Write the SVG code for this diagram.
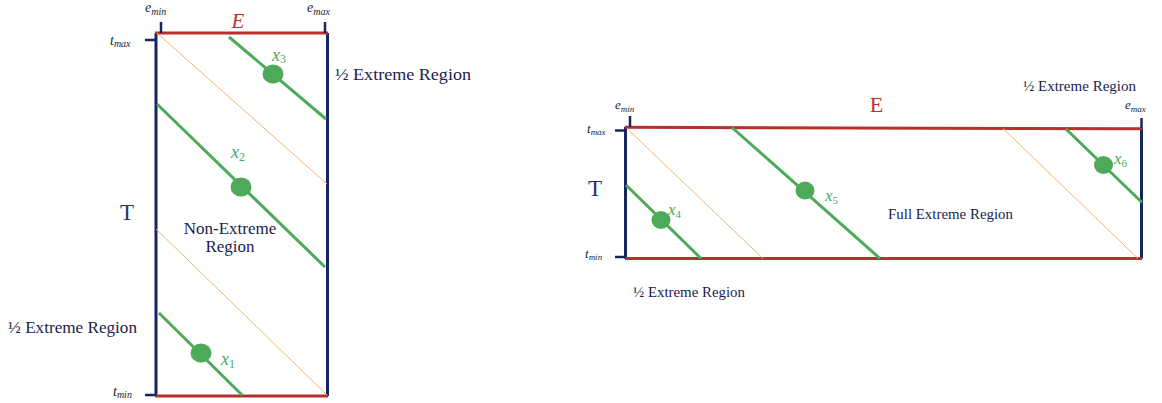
<svg xmlns="http://www.w3.org/2000/svg" width="1162" height="403" viewBox="0 0 1162 403">
<style>
.bg{fill:#ffffff}
.edge{stroke:#b7312c;stroke-width:3;fill:none}
.side{stroke:#15255e;stroke-width:3;fill:none}
.tick{stroke:#15255e;stroke-width:2.5;fill:none}
.guide{stroke:#f6b36e;stroke-width:1;fill:none}
.traj{stroke:#4caa58;stroke-width:3;fill:none}
.pt{fill:#4caa58}
.lbl{font-family:"Liberation Serif","Times New Roman",serif;fill:#1b1d4d}
.ax{font-family:"Liberation Serif","Times New Roman",serif;fill:#1e3470}
.red{font-family:"Liberation Serif","Times New Roman",serif;fill:#b7312c}
.math{font-family:"Liberation Serif","Times New Roman",serif;font-style:italic;fill:#1b1d2d}
.gm{font-family:"Liberation Serif","Times New Roman",serif;font-style:italic;fill:#4caa58}
</style>
<rect class="bg" x="0" y="0" width="1162" height="403"/>
<g id="left-diagram">
  <g id="left-frame">
    <line class="side" x1="156" y1="33" x2="156" y2="396"/>
    <line class="side" x1="327.5" y1="33" x2="327.5" y2="396"/>
    <line class="edge" x1="155" y1="33" x2="328" y2="33"/>
    <line class="edge" x1="155" y1="396" x2="328" y2="396"/>
    <line class="tick" x1="161" y1="22" x2="161" y2="33"/>
    <line class="tick" x1="325" y1="22" x2="325" y2="33"/>
    <line class="tick" x1="145" y1="40" x2="156" y2="40"/>
    <line class="tick" x1="145" y1="395" x2="156" y2="395"/>
  </g>
  <g id="left-guides">
    <line class="guide" x1="157" y1="33" x2="327" y2="184"/>
    <line class="guide" x1="156" y1="229" x2="327" y2="395"/>
  </g>
  <g id="x3">
    <line class="traj" x1="229" y1="37" x2="326" y2="119"/>
    <ellipse class="pt" cx="273" cy="74" rx="10.5" ry="9.5"/>
    <text class="gm" x="272" y="61" font-size="18">x<tspan font-style="normal" font-size="12" dy="2">3</tspan></text>
  </g>
  <g id="x2">
    <line class="traj" x1="157" y1="104" x2="325" y2="267"/>
    <ellipse class="pt" cx="241" cy="187" rx="10.5" ry="9.5"/>
    <text class="gm" x="231" y="158" font-size="18">x<tspan font-style="normal" font-size="12" dy="3">2</tspan></text>
  </g>
  <g id="x1">
    <line class="traj" x1="159" y1="313" x2="242" y2="395"/>
    <ellipse class="pt" cx="201" cy="353" rx="10.5" ry="9.5"/>
    <text class="gm" x="221" y="365" font-size="18">x<tspan font-style="normal" font-size="12" dy="3">1</tspan></text>
  </g>
  <g id="left-labels">
    <text class="red" x="238" y="28" font-size="21" font-style="italic" text-anchor="middle">E</text>
    <text class="math" x="145" y="12" font-size="14">e<tspan font-size="10" dy="3">min</tspan></text>
    <text class="math" x="307" y="12" font-size="14">e<tspan font-size="10" dy="3">max</tspan></text>
    <text class="math" x="110" y="45" font-size="14">t<tspan font-size="10" dy="2">max</tspan></text>
    <text class="math" x="113" y="396" font-size="14">t<tspan font-size="10" dy="2">min</tspan></text>
    <text class="ax" x="127" y="220" font-size="23" text-anchor="middle">T</text>
    <text class="lbl" x="335" y="80" font-size="17" textLength="136" lengthAdjust="spacingAndGlyphs">½ Extreme Region</text>
    <text class="lbl" x="8" y="333" font-size="17" textLength="129" lengthAdjust="spacingAndGlyphs">½ Extreme Region</text>
    <text class="lbl" x="230" y="234" font-size="17" text-anchor="middle">Non-Extreme</text>
    <text class="lbl" x="230" y="252" font-size="17" text-anchor="middle">Region</text>
  </g>
</g>
<g id="right-diagram">
  <g id="right-frame">
    <line class="side" x1="625.5" y1="127" x2="625.5" y2="258.5"/>
    <line class="side" x1="1141.5" y1="128" x2="1141.5" y2="258.5"/>
    <line class="edge" x1="625" y1="127.3" x2="1142" y2="128.8"/>
    <line class="edge" x1="625" y1="258.5" x2="1142" y2="258.5"/>
    <line class="tick" x1="630" y1="116" x2="630" y2="127"/>
    <line class="tick" x1="1141.5" y1="118" x2="1141.5" y2="128"/>
    <line class="tick" x1="615" y1="130.5" x2="626" y2="130.5"/>
    <line class="tick" x1="615" y1="257" x2="626" y2="257"/>
  </g>
  <g id="right-guides">
    <line class="guide" x1="627" y1="128.5" x2="763" y2="258.5"/>
    <line class="guide" x1="1003" y1="128.5" x2="1138" y2="258.5"/>
  </g>
  <g id="x4">
    <line class="traj" x1="626" y1="185" x2="701" y2="258.5"/>
    <ellipse class="pt" cx="661" cy="220" rx="9.5" ry="9"/>
    <text class="gm" x="668" y="215" font-size="17">x<tspan font-style="normal" font-size="11" dy="3">4</tspan></text>
  </g>
  <g id="x5">
    <line class="traj" x1="732" y1="127.5" x2="880" y2="258.5"/>
    <ellipse class="pt" cx="805" cy="190.5" rx="9.5" ry="9"/>
    <text class="gm" x="825" y="201" font-size="17">x<tspan font-style="normal" font-size="11" dy="3">5</tspan></text>
  </g>
  <g id="x6">
    <line class="traj" x1="1066" y1="129" x2="1142" y2="202.5"/>
    <ellipse class="pt" cx="1103.5" cy="165" rx="9.5" ry="9"/>
    <text class="gm" x="1114" y="164" font-size="17">x<tspan font-style="normal" font-size="11" dy="3">6</tspan></text>
  </g>
  <g id="right-labels">
    <text class="red" x="876.5" y="112" font-size="22" text-anchor="middle">E</text>
    <text class="math" x="615" y="109" font-size="13">e<tspan font-size="9" dy="3">min</tspan></text>
    <text class="math" x="1125" y="109" font-size="13">e<tspan font-size="9" dy="3">max</tspan></text>
    <text class="math" x="587" y="133" font-size="13">t<tspan font-size="9" dy="2">max</tspan></text>
    <text class="math" x="585" y="258" font-size="13">t<tspan font-size="9" dy="2">min</tspan></text>
    <text class="ax" x="595" y="196" font-size="23" text-anchor="middle">T</text>
    <text class="lbl" x="1023" y="91" font-size="15" textLength="113" lengthAdjust="spacingAndGlyphs">½ Extreme Region</text>
    <text class="lbl" x="633" y="297" font-size="15" textLength="112" lengthAdjust="spacingAndGlyphs">½ Extreme Region</text>
    <text class="lbl" x="888" y="219" font-size="15" textLength="125" lengthAdjust="spacingAndGlyphs">Full Extreme Region</text>
  </g>
</g>
</svg>
